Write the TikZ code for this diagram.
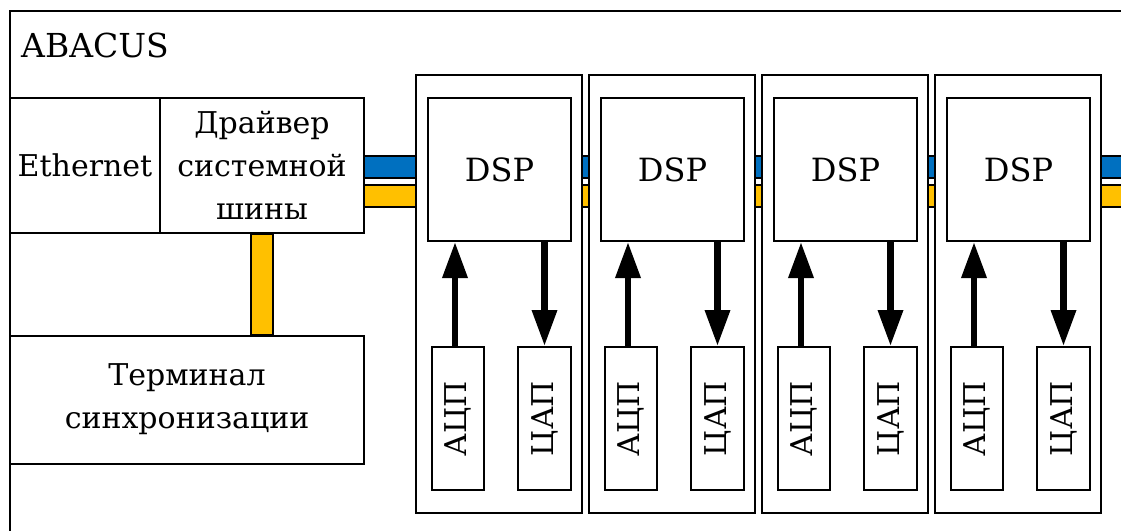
\documentclass[tikz,border=0pt]{standalone}
\usepackage{fontspec}
\usepackage{graphicx}
\setmainfont{DejaVu Serif}
\usetikzlibrary{arrows.meta}
\definecolor{busblue}{HTML}{0070C0}
\definecolor{busyellow}{HTML}{FFC000}

\begin{document}
\begin{tikzpicture}[x=1pt,y=-1pt,
  font=\rmfamily\fontsize{30}{43}\selectfont,
  box/.style={draw,line width=2pt,fill=white,inner sep=0pt,align=center},
  bus/.style={draw,line width=2pt},
  sig/.style={line width=6.5pt,-{Triangle[length=36pt,width=24pt]}}]

\useasboundingbox (0,0) rectangle (1121,530);
\fill[white] (0,0) rectangle (1121,530);

% enclosing ABACUS frame (runs off the page to the right and bottom)
\draw[line width=2pt] (10,531) -- (10,11) -- (1122,11);
\node[anchor=base west,inner sep=0pt,font=\rmfamily\fontsize{33}{40}\selectfont]
  (title) at (21,57) {ABACUS};

% system bus, drawn first so that the modules cover it
\coordinate (busend) at (1125,181);
\draw[bus,fill=busblue]   (364,156) rectangle (busend |- 0,178);
\draw[bus,fill=busyellow] (364,185) rectangle (busend |- 0,207);

% host side blocks
\node[box,minimum width=150pt,minimum height=135pt] (eth) at (85,165.5) {Ethernet};
\node[box,minimum width=204pt,minimum height=135pt] (drv) at (262,165.5)
  {Драйвер\\системной\\шины};
\node[box,minimum width=354pt,minimum height=128pt] (term) at (187,399.5)
  {Терминал\\синхронизации};

% sync link from the bus driver down to the terminal
\draw[bus,fill=busyellow] ([xshift=-11pt]drv.south)
  rectangle ([xshift=11pt]drv.south |- term.north);

% four DSP modules
\foreach \i in {0,1,2,3} {
  \pgfmathsetmacro\mx{499+173*\i}
  \node[box,minimum width=166pt,minimum height=438pt] (mod\i) at (\mx,293.5) {};
  \node[box,minimum width=143pt,minimum height=143pt,font=\rmfamily\fontsize{32}{40}\selectfont]
    (dsp\i) at (\mx+0.5,169.5) {DSP};
  \node[box,minimum width=52pt,minimum height=143pt] (adc\i) at (\mx-41,418.5)
    {\rotatebox{90}{АЦП}};
  \node[box,minimum width=53pt,minimum height=143pt] (dac\i) at (\mx+45.5,418.5)
    {\rotatebox{90}{ЦАП}};
  \draw[sig] ([xshift=-3pt]adc\i.north) -- ([xshift=-3pt]adc\i.north |- dsp\i.south);
  \draw[sig] (dac\i.north |- dsp\i.south) -- (dac\i.north);
}
\end{tikzpicture}
\end{document}
